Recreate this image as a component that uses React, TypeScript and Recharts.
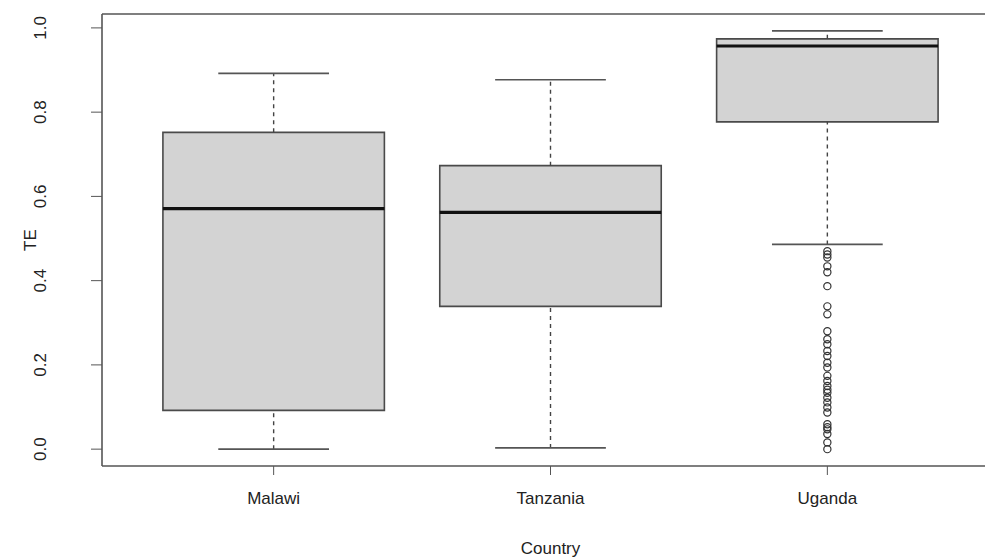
import React from 'react';
import {
  ComposedChart,
  XAxis,
  YAxis,
  Scatter,
  ReferenceArea,
  ReferenceLine,
  Label
} from 'recharts';

// Box plot of TE by country (R base-graphics look)
const countries = ['Malawi', 'Tanzania', 'Uganda'];
const lowerWhisker = [0.0, 0.003, 0.486];
const lowerQuartile = [0.092, 0.339, 0.777];
const medians = [0.571, 0.562, 0.957];
const upperQuartile = [0.752, 0.673, 0.974];
const upperWhisker = [0.892, 0.877, 0.993];
const ugandaOutliers = [
  0.47, 0.462, 0.455, 0.434, 0.42, 0.387, 0.339, 0.32, 0.28, 0.261,
  0.249, 0.233, 0.221, 0.205, 0.194, 0.174, 0.162, 0.15, 0.141, 0.134,
  0.122, 0.111, 0.099, 0.087, 0.059, 0.052, 0.047, 0.036, 0.016, 0.0
];
const yTicks = [0, 0.2, 0.4, 0.6, 0.8, 1.0];
const xTicks = [1, 2, 3];

const outlierPoints = ugandaOutliers.map((v) => ({ x: 3, y: v }));

const X_DOMAIN: [number, number] = [0.38, 3.62];
const Y_DOMAIN: [number, number] = [-0.04, 1.033];

const FONT = '"Liberation Sans", Arial, Helvetica, sans-serif';
const TEXT = '#222222';
const LINE = '#555555';
const HALF_BOX = 0.4;
const HALF_CAP = 0.2;

const YTick = (props: any) => {
  const { x, y, payload } = props;
  return (
    <text
      x={x}
      y={y}
      transform={`rotate(-90 ${x} ${y})`}
      textAnchor="middle"
      fill={TEXT}
      fontSize={17}
      fontFamily={FONT}
    >
      {Number(payload.value).toFixed(1)}
    </text>
  );
};

const OutlierDot = (props: any) => {
  const { cx, cy } = props;
  return <circle cx={cx} cy={cy} r={3.6} fill="none" stroke="#333" strokeWidth={1.2} />;
};

export default function App() {
  return (
    <div
      style={{
        position: 'absolute',
        left: 0,
        top: 0,
        width: 985,
        height: 558,
        overflow: 'hidden',
        background: '#ffffff'
      }}
    >
      <ComposedChart
        width={1010}
        height={558}
        margin={{ top: 14, right: 11, bottom: 0, left: 0 }}
      >
        <XAxis
          type="number"
          dataKey="x"
          domain={X_DOMAIN}
          allowDataOverflow
          ticks={xTicks}
          tickFormatter={(v: number) => countries[v - 1]}
          height={92}
          axisLine={false}
          tickSize={9}
          tickMargin={17}
          tickLine={{ stroke: LINE }}
          tick={{ fill: TEXT, fontSize: 17, fontFamily: FONT }}
        >
          <Label
            value="Country"
            position="insideBottom"
            offset={4}
            fill={TEXT}
            fontSize={17}
            fontFamily={FONT}
          />
        </XAxis>
        <YAxis
          type="number"
          dataKey="y"
          domain={Y_DOMAIN}
          allowDataOverflow
          ticks={yTicks}
          width={102}
          axisLine={false}
          tickSize={11}
          tickMargin={45}
          tickLine={{ stroke: LINE }}
          tick={<YTick />}
        >
          <Label
            content={(p: any) => {
              const vb = p.viewBox || {};
              const cx = 36;
              const cy = vb.y + vb.height / 2;
              return (
                <text
                  x={cx}
                  y={cy}
                  transform={`rotate(-90 ${cx} ${cy})`}
                  textAnchor="middle"
                  fill={TEXT}
                  fontSize={17}
                  fontFamily={FONT}
                >
                  TE
                </text>
              );
            }}
          />
        </YAxis>

        {/* plot frame: left, top, bottom (right side is cropped off) */}
        <ReferenceLine x={X_DOMAIN[0]} stroke={LINE} strokeWidth={1.6} ifOverflow="visible" />
        <ReferenceLine y={Y_DOMAIN[1]} stroke={LINE} strokeWidth={1.6} ifOverflow="visible" />
        <ReferenceLine y={Y_DOMAIN[0]} stroke={LINE} strokeWidth={1.6} ifOverflow="visible" />

        {/* whiskers */}
        {countries.map((c, i) => (
          <ReferenceLine
            key={`uw-${c}`}
            segment={[{ x: i + 1, y: upperQuartile[i] }, { x: i + 1, y: upperWhisker[i] }]}
            stroke="#444"
            strokeWidth={1.4}
            strokeDasharray="4 4"
          />
        ))}
        {countries.map((c, i) => (
          <ReferenceLine
            key={`lw-${c}`}
            segment={[{ x: i + 1, y: lowerWhisker[i] }, { x: i + 1, y: lowerQuartile[i] }]}
            stroke="#444"
            strokeWidth={1.4}
            strokeDasharray="4 4"
          />
        ))}
        {countries.map((c, i) => (
          <ReferenceLine
            key={`uc-${c}`}
            segment={[{ x: i + 1 - HALF_CAP, y: upperWhisker[i] }, { x: i + 1 + HALF_CAP, y: upperWhisker[i] }]}
            stroke={LINE}
            strokeWidth={1.6}
          />
        ))}
        {countries.map((c, i) => (
          <ReferenceLine
            key={`lc-${c}`}
            segment={[{ x: i + 1 - HALF_CAP, y: lowerWhisker[i] }, { x: i + 1 + HALF_CAP, y: lowerWhisker[i] }]}
            stroke={LINE}
            strokeWidth={1.6}
          />
        ))}

        {/* boxes */}
        {countries.map((c, i) => (
          <ReferenceArea
            key={`box-${c}`}
            x1={i + 1 - HALF_BOX}
            x2={i + 1 + HALF_BOX}
            y1={lowerQuartile[i]}
            y2={upperQuartile[i]}
            fill="#d3d3d3"
            fillOpacity={1}
            stroke="#4a4a4a"
            strokeWidth={1.6}
          />
        ))}
        {countries.map((c, i) => (
          <ReferenceLine
            key={`med-${c}`}
            segment={[{ x: i + 1 - HALF_BOX, y: medians[i] }, { x: i + 1 + HALF_BOX, y: medians[i] }]}
            stroke="#111"
            strokeWidth={3.2}
          />
        ))}

        <Scatter
          data={outlierPoints}
          dataKey="y"
          shape={<OutlierDot />}
          isAnimationActive={false}
        />
      </ComposedChart>
    </div>
  );
}
